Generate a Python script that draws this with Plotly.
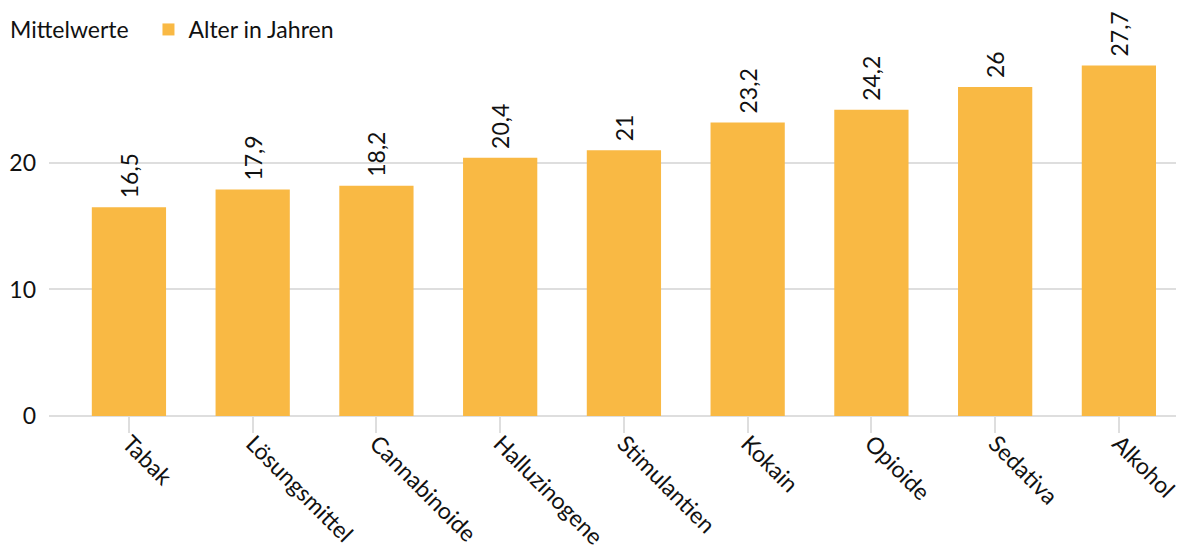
import plotly.graph_objects as go

categories = ["Tabak", "Lösungsmittel", "Cannabinoide", "Halluzinogene", "Stimulantien",
              "Kokain", "Opioide", "Sedativa", "Alkohol"]
values = [16.5, 17.9, 18.2, 20.4, 21.0, 23.2, 24.2, 26.0, 27.7]
labels = ["16,5", "17,9", "18,2", "20,4", "21", "23,2", "24,2", "26", "27,7"]
y_ticks = [0, 10, 20]

FONT = "Lato, Open Sans, sans-serif"
BAR = "#F9B944"
GRID = "#DEDEDE"
FS = 23

fig = go.Figure()
fig.add_trace(go.Bar(
    x=categories, y=values, name="Alter in Jahren",
    marker=dict(color=BAR, line=dict(width=0)),
    width=0.6,
    text=["\u00a0" + t for t in labels], textposition="outside", textangle=-90,
    constraintext="none",
    textfont=dict(family=FONT, size=FS, color="#111111"),
    cliponaxis=False,
))

# page body has an 8px default margin, so the figure is drawn 8px smaller
fig.update_layout(
    width=1176, height=543,
    margin=dict(l=41, r=2, t=41, b=135, autoexpand=False),
    paper_bgcolor="white", plot_bgcolor="white",
    font=dict(family=FONT, size=FS, color="#111111"),
    showlegend=True,
    legend=dict(
        orientation="h", xref="container", yref="container",
        x=0, y=1, xanchor="left", yanchor="top",
        title=dict(text="Mittelwerte\u00a0\u00a0", font=dict(family=FONT, size=FS)),
        font=dict(family=FONT, size=FS),
        bgcolor="rgba(0,0,0,0)",
    ),
    bargap=0.4,
)
fig.update_xaxes(
    type="category", range=[-0.646, 8.51], automargin=False,
    tickangle=45, ticks="outside", ticklen=16, tickwidth=2, tickcolor=GRID,
    ticklabelstandoff=-12,
    showline=False, showgrid=False,
    tickfont=dict(family=FONT, size=FS, color="#111111"),
)
fig.update_yaxes(
    range=[0, 29], tickvals=y_ticks, ticktext=[str(v) for v in y_ticks],
    automargin=False,
    showgrid=True, gridcolor=GRID, gridwidth=2,
    zeroline=True, zerolinecolor=GRID, zerolinewidth=2,
    showline=False, ticks="", ticklabelstandoff=12,
    tickfont=dict(family=FONT, size=FS, color="#111111"),
)

fig.write_html("out.html")
